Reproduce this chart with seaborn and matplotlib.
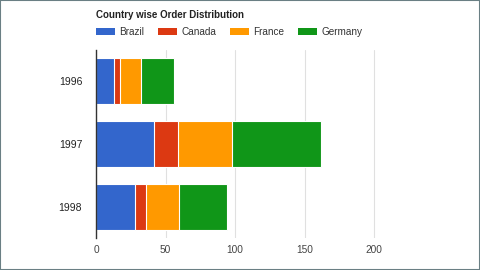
import numpy as np
import pandas as pd
import matplotlib
matplotlib.use("Agg")
import matplotlib.pyplot as plt
import seaborn as sns
from matplotlib.patches import Patch

years = ["1996", "1997", "1998"]
countries = ["Brazil", "Canada", "France", "Germany"]
brazil = [13, 42, 28]
canada = [4, 17, 8]
france = [15, 39, 24]
germany = [24, 64, 34]
colors = ["#3366cc", "#dc3912", "#ff9900", "#109618"]
title = "Country wise Order Distribution"
xticks = [0, 50, 100, 150, 200]

sns.set_theme(style="white")
plt.rcParams["font.family"] = ["Liberation Sans", "DejaVu Sans"]

series = [brazil, canada, france, germany]
cum = np.cumsum(np.array(series), axis=0)

fig = plt.figure(figsize=(4.8, 2.7), dpi=100)
fig.patch.set_facecolor("white")
ax = fig.add_axes([96/480, 1-238/270, (395-96)/480, (238-50)/270])

for i in range(len(countries) - 1, -1, -1):
    df = pd.DataFrame({"year": years, "value": cum[i]})
    sns.barplot(data=df, x="value", y="year", order=years, color=colors[i],
                orient="h", width=0.73, edgecolor="white", linewidth=0.8,
                ax=ax, saturation=1)

ax.set_xlim(0, 215)
ax.set_ylim(2.5, -0.5)
ax.set_xticks(xticks)
ax.set_xticklabels([str(t) for t in xticks], fontsize=7.3, color="#444444")
ax.tick_params(axis="y", labelsize=7.5, labelcolor="#222222", length=0, pad=10)
ax.tick_params(axis="x", length=0, pad=5)
ax.set_xlabel("")
ax.set_ylabel("")
ax.grid(axis="x", color="#e0e0e0", linewidth=0.8)
ax.set_axisbelow(True)
for s in ["top", "right", "bottom"]:
    ax.spines[s].set_visible(False)
ax.spines["left"].set_color("#333333")
ax.spines["left"].set_linewidth(1.0)

fig.text(96/480, 1-15/270, title, fontsize=7.0, fontweight="bold",
         color="#222222", va="center", ha="left")

handles = [Patch(facecolor=c, edgecolor="none") for c in colors]
fig.legend(handles, countries, loc="center left",
           bbox_to_anchor=(96/480, 1-32/270), ncol=4, frameon=False,
           fontsize=7.2, handlelength=1.9, handleheight=0.8,
           handletextpad=0.45, columnspacing=1.35, borderaxespad=0,
           borderpad=0, labelcolor="#333333")

fig.patches.append(matplotlib.patches.Rectangle((0, 0), 1, 1, transform=fig.transFigure,
                   fill=False, edgecolor="#6a7f84", linewidth=1.5))

fig.savefig("out.png", dpi=100, facecolor="white")
